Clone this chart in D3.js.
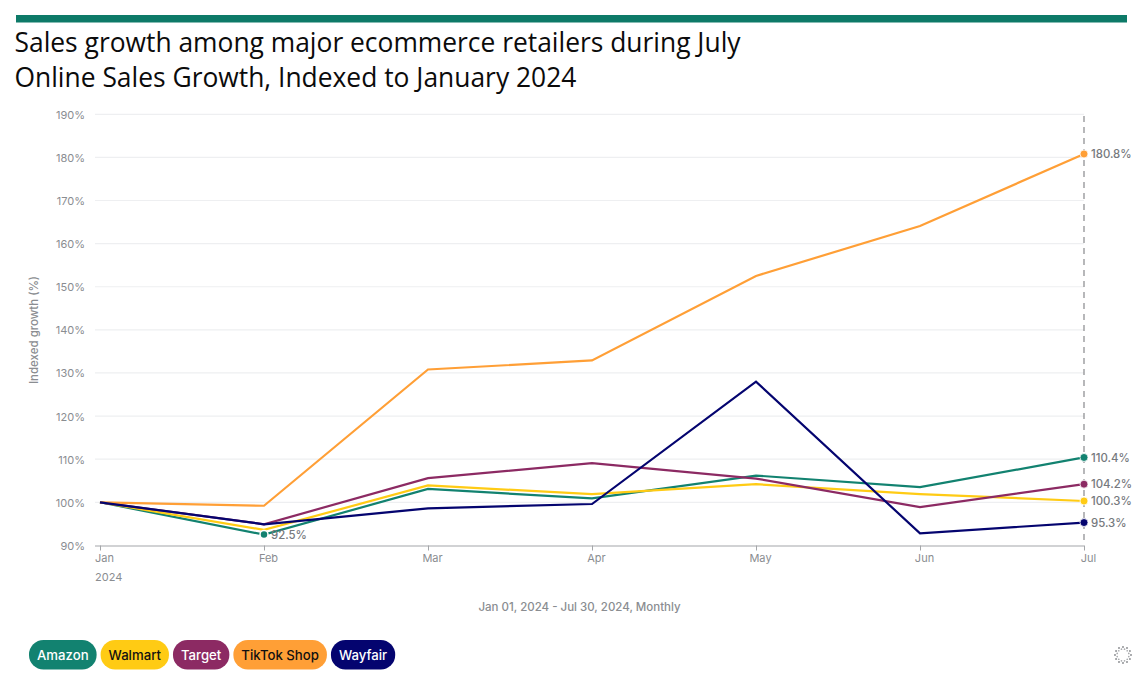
<!DOCTYPE html>
<html>
<head>
<meta charset="utf-8">
<script src="https://cdn.jsdelivr.net/npm/d3@7"></script>
<style>
  html, body { margin: 0; padding: 0; background: #fff; }
  svg { display: block; }
  text { font-family: Inter, "Noto Sans", sans-serif; }
  .title { font-family: "Open Sans", "Noto Sans", sans-serif; font-size: 26.4px; fill: #0b0b0b; }
  .tick text, .ylabel, .xcaption { fill: #8a8d91; font-size: 11px; }
  .ylabel, .xcaption.caption { font-size: 11.5px; }
  .endlabel { fill: #76797d; font-size: 11.4px; font-weight: 500; }
</style>
</head>
<body>
<script>
//chart data
var months = ["Jan", "Feb", "Mar", "Apr", "May", "Jun", "Jul"];
var yTicks = [90, 100, 110, 120, 130, 140, 150, 160, 170, 180, 190];
var amazon = [100, 92.5, 103.1, 100.9, 106.2, 103.5, 110.4];
var walmart = [100, 93.6, 103.9, 101.9, 104.2, 101.9, 100.3];
var target = [100, 94.9, 105.6, 109.1, 105.5, 98.9, 104.2];
var tiktok = [100, 99.2, 130.8, 132.9, 152.5, 164.1, 180.8];
var wayfair = [100, 94.9, 98.6, 99.6, 128, 92.8, 95.3];

var seriesNames = ["Amazon", "Walmart", "Target", "TikTok Shop", "Wayfair"];
var seriesValues = [amazon, walmart, target, tiktok, wayfair];
var seriesColors = ["#128270", "#ffcb14", "#8c2a63", "#ff9f36", "#04046f"];
var legendText = ["#fff", "#111", "#fff", "#111", "#fff"];

var width = 1144,
    height = 688;

var svg = d3.select("body")
    .append("svg")
    .attr("width", width)
    .attr("height", height);

//top band and the two title lines
svg.append("rect")
    .attr("x", 16).attr("y", 15)
    .attr("width", 1111).attr("height", 7.5)
    .attr("fill", "#0d7a68");

svg.append("text").attr("class", "title").attr("x", 14.5).attr("y", 52)
    .text("Sales growth among major ecommerce retailers during July");
svg.append("text").attr("class", "title").attr("x", 14.5).attr("y", 87)
    .text("Online Sales Growth, Indexed to January 2024");

//scales
var x = d3.scalePoint().domain(months).range([100, 1084]);
var y = d3.scaleLinear().domain([90, 190]).range([545.4, 114.3]);

//gridlines
svg.selectAll(".grid")
    .data(yTicks.slice(1))
    .enter()
    .append("line")
    .attr("class", "grid")
    .attr("x1", 95).attr("x2", 1084)
    .attr("y1", function(d){ return y(d); })
    .attr("y2", function(d){ return y(d); })
    .attr("stroke", "#eeeff1")
    .attr("stroke-width", 1.2);

//y axis labels only
var yAxis = svg.append("g")
    .attr("transform", "translate(95,0)")
    .call(d3.axisLeft(y).tickValues(yTicks).tickSize(0).tickPadding(10)
        .tickFormat(function(d){ return d + "%"; }));
yAxis.select(".domain").remove();
yAxis.selectAll("text").attr("dy", "0.36em");

svg.append("text")
    .attr("class", "ylabel")
    .attr("transform", "translate(38,330) rotate(-90)")
    .attr("text-anchor", "middle")
    .attr("font-weight", 500)
    .text("Indexed growth (%)");

//x axis
var xAxis = svg.append("g")
    .attr("transform", "translate(0,545.5)")
    .call(d3.axisBottom(x).tickSize(5).tickPadding(4));
xAxis.select(".domain")
    .attr("d", "M95,0.5H1084")
    .attr("stroke", "#a4a6a9")
    .attr("stroke-width", 1.2);
xAxis.selectAll(".tick line").attr("stroke", "#a4a6a9");
xAxis.selectAll(".tick text").attr("dx", 4);

svg.append("text")
    .attr("class", "xcaption")
    .attr("x", 95).attr("y", 581)
    .text("2024");

svg.append("text")
    .attr("class", "xcaption caption")
    .attr("x", 579.5).attr("y", 611)
    .attr("text-anchor", "middle")
    .attr("font-weight", 500)
    .text("Jan 01, 2024 - Jul 30, 2024, Monthly");

//dashed line at the last month
svg.append("line")
    .attr("x1", x("Jul")).attr("x2", x("Jul"))
    .attr("y1", 116).attr("y2", 545)
    .attr("stroke", "#88898c")
    .attr("stroke-width", 1.2)
    .attr("stroke-dasharray", "6,5");

//series lines
var line = d3.line()
    .x(function(d, i){ return x(months[i]); })
    .y(function(d){ return y(d); });

svg.selectAll(".series")
    .data(seriesValues)
    .enter()
    .append("path")
    .attr("class", "series")
    .attr("d", line)
    .attr("fill", "none")
    .attr("stroke", function(d, i){ return seriesColors[i]; })
    .attr("stroke-width", 2.2);

//end markers and labels
var last = months.length - 1;
svg.selectAll(".endpoint")
    .data(seriesValues)
    .enter()
    .append("circle")
    .attr("class", "endpoint")
    .attr("cx", x("Jul"))
    .attr("cy", function(d){ return y(d[last]); })
    .attr("r", 4)
    .attr("fill", function(d, i){ return seriesColors[i]; })
    .attr("stroke", "#fff")
    .attr("stroke-width", 0.8);

svg.selectAll(".endlabel")
    .data(seriesValues)
    .enter()
    .append("text")
    .attr("class", "endlabel")
    .attr("x", 1091)
    .attr("y", function(d){ return y(d[last]); })
    .attr("dy", "0.36em")
    .text(function(d){ return d[last].toFixed(1) + "%"; });

//the low point of Amazon gets its own marker
svg.append("circle")
    .attr("cx", x("Feb")).attr("cy", y(amazon[1]))
    .attr("r", 4)
    .attr("fill", seriesColors[0])
    .attr("stroke", "#fff")
    .attr("stroke-width", 1.5);
svg.append("text")
    .attr("class", "endlabel")
    .attr("x", 271)
    .attr("y", y(amazon[1]))
    .attr("dy", "0.36em")
    .text(amazon[1].toFixed(1) + "%");

//legend pills, measured from their labels
var legendX = 29;
seriesNames.forEach(function(name, i){
    var g = svg.append("g").attr("transform", "translate(" + legendX + ",640)");
    var rect = g.append("rect")
        .attr("height", 29.5)
        .attr("rx", 14.5)
        .attr("fill", seriesColors[i]);
    var label = g.append("text")
        .attr("x", 8)
        .attr("y", 15.2)
        .attr("dy", "0.35em")
        .attr("font-size", 13.2)
        .attr("font-weight", 500)
        .attr("fill", legendText[i])
        .text(name);
    var w = label.node().getComputedTextLength() + 16;
    rect.attr("width", w);
    legendX += w + 4;
});

//small ring of dots in the corner
var ring = svg.append("g")
    .attr("transform", "translate(1123,655)");
ring.selectAll("circle")
    .data(d3.range(0, 360, 30))
    .enter()
    .append("circle")
    .attr("cx", function(d){ return 8 * Math.cos(d * Math.PI / 180); })
    .attr("cy", function(d){ return 8 * Math.sin(d * Math.PI / 180); })
    .attr("r", 1.05)
    .attr("fill", "#96989b");
ring.selectAll(".inner")
    .data(d3.range(15, 360, 30))
    .enter()
    .append("circle")
    .attr("class", "inner")
    .attr("cx", function(d){ return 6 * Math.cos(d * Math.PI / 180); })
    .attr("cy", function(d){ return 6 * Math.sin(d * Math.PI / 180); })
    .attr("r", 0.85)
    .attr("fill", "#a8aaad");
</script>
</body>
</html>
